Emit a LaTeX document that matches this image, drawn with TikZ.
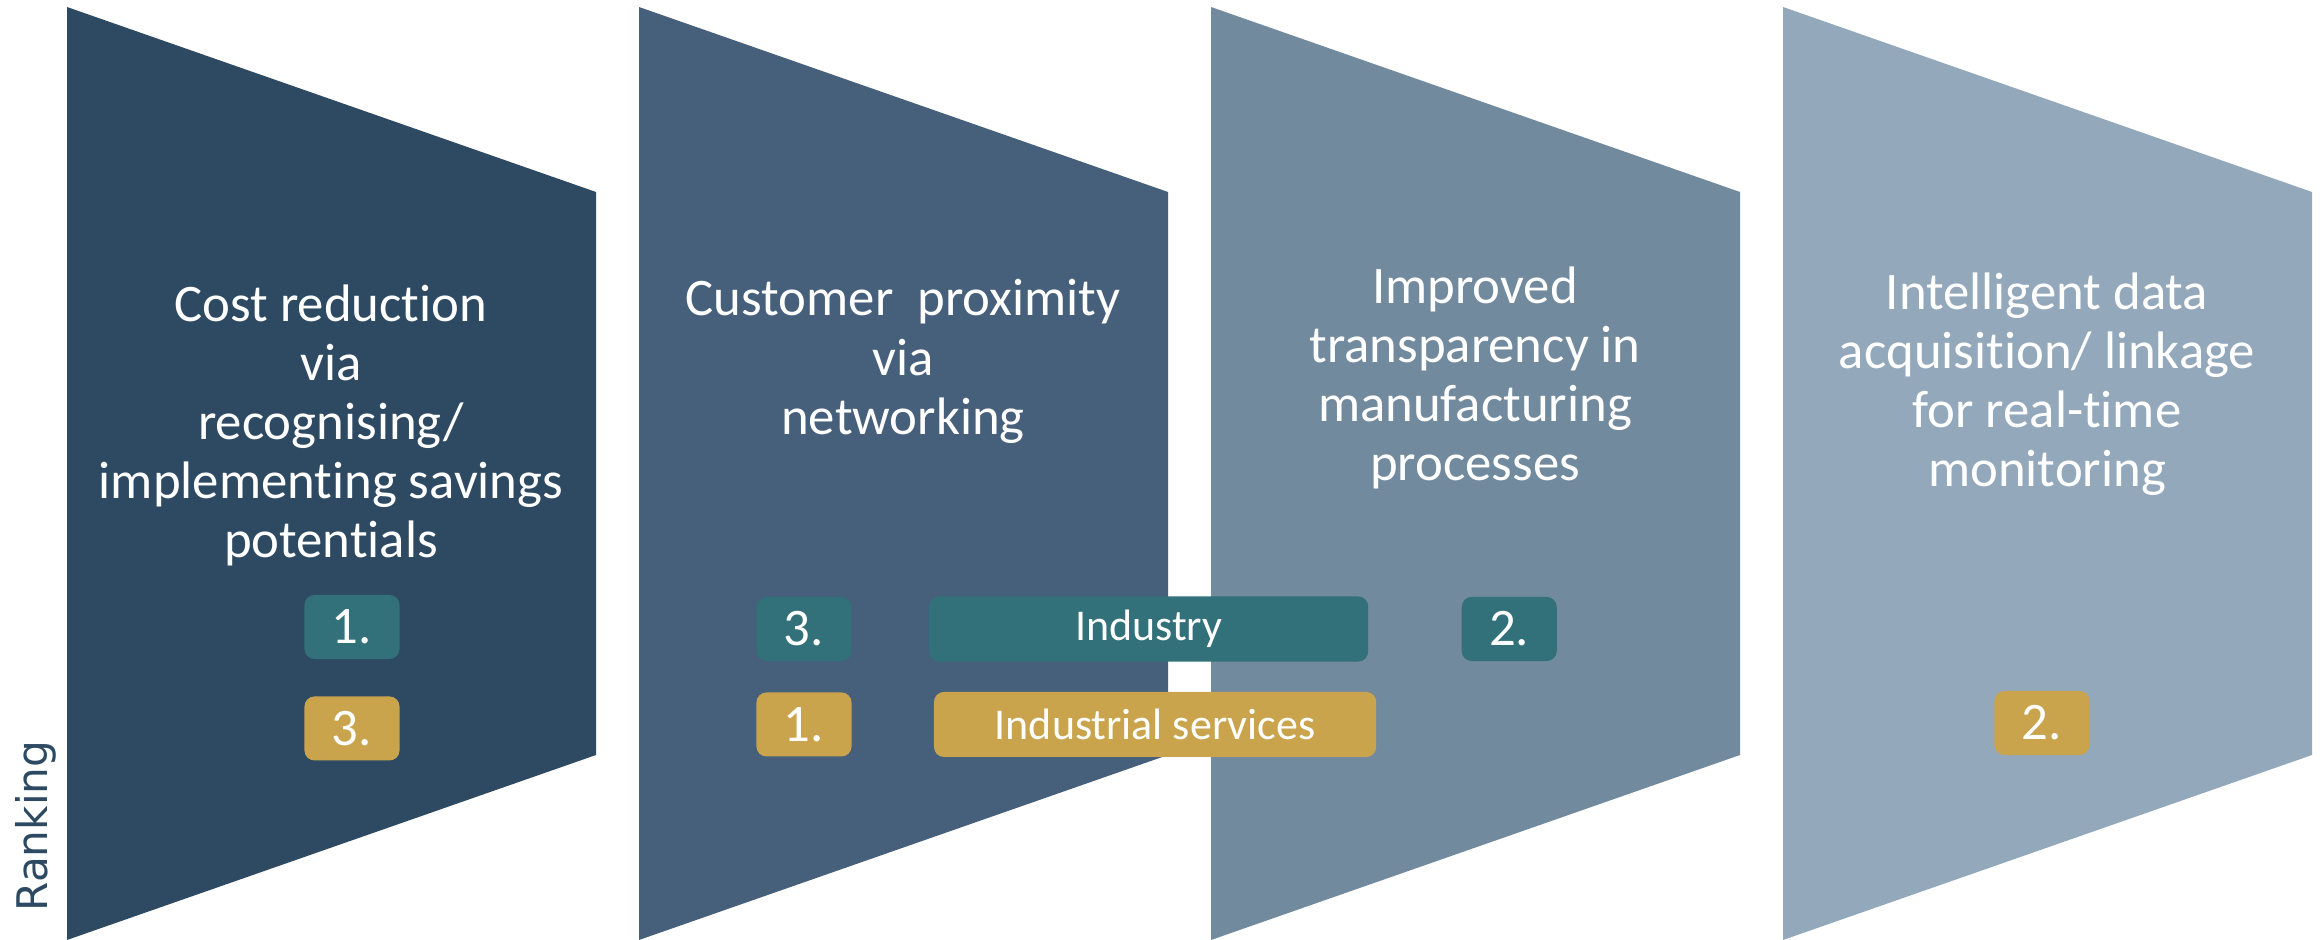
\documentclass[tikz,border=0pt]{standalone}
\usepackage{fontspec}
\setmainfont{Carlito}[Ligatures=NoCommon]
\newfontfamily\rankfont{DejaVu Sans}
\usetikzlibrary{positioning}

\definecolor{fieldA}{HTML}{2E4A62}
\definecolor{fieldB}{HTML}{465F7B}
\definecolor{fieldC}{HTML}{728A9E}
\definecolor{fieldD}{HTML}{93A8BB}
\definecolor{rankteal}{HTML}{327179}
\definecolor{rankgold}{HTML}{C9A44D}

\begin{document}
\begin{tikzpicture}[x=0.01cm, y=-0.01cm]
    \tikzset{goal/.style={
        text=white, align=center, inner sep=0pt, anchor=north, font=\fontsize{15}{16.8}\selectfont
      },
      badge/.style={rounded corners=0.1cm, text=white, inner sep=0pt,
        minimum width=0.95cm, minimum height=0.64cm, font=\fontsize{15}{16.8}\selectfont},
      tealbadge/.style={badge, fill=rankteal},
      goldbadge/.style={badge, fill=rankgold},
      sector/.style={rounded corners=0.1cm, text=white, inner sep=0pt,
        minimum height=0.65cm, font=\fontsize{12.5}{15}\selectfont}
    }
    \useasboundingbox (0,0) rectangle (2320,940);

    % the four fields
    \fill[fieldA] (67,7) -- (596,192) -- (596,755) -- (67,940) -- cycle;
    \fill[fieldB] (639,7) -- (1168,192) -- (1168,755) -- (639,940) -- cycle;
    \fill[fieldC] (1211,7) -- (1740,192) -- (1740,755) -- (1211,940) -- cycle;
    \fill[fieldD] (1783,7) -- (2312,192) -- (2312,755) -- (1783,940) -- cycle;

    \node[goal] (costs) at (331,284) {Cost reduction\\via\\recognising/\\implementing savings\\potentials};
    \node[goal] (customer) at (903,279) {Customer~ proximity\\via\\networking};
    \node[goal] (transparency) at (1475,266) {Improved\\transparency in\\manufacturing\\processes};
    \node[goal] (monitoring) at (2047,272) {Intelligent data\\acquisition/ linkage\\for real-time\\monitoring};

    \node[tealbadge] (T1) at (352,627) {1.};
    \node[goldbadge] (G1) [below=0.36cm of T1] {3.};

    \node[tealbadge] (T2) at (804,629) {3.};
    \node[goldbadge] (G2) [below=0.30cm of T2] {1.};

    \node[sector, fill=rankteal, minimum width=4.39cm] (industry) [right=0.76cm of T2] {Industry};
    \node[sector, fill=rankgold, minimum width=4.42cm] (services) [right=0.81cm of G2] {Industrial services};

    \node[tealbadge] (T3) [right=0.92cm of industry] {2.};
    \node[goldbadge] (G4) at (2042,723) {2.};

    \node[rotate=90, text=fieldA, font=\rankfont\fontsize{12}{14}\selectfont] (ranking) at (36,826) {Ranking};
  \end{tikzpicture}
\end{document}
